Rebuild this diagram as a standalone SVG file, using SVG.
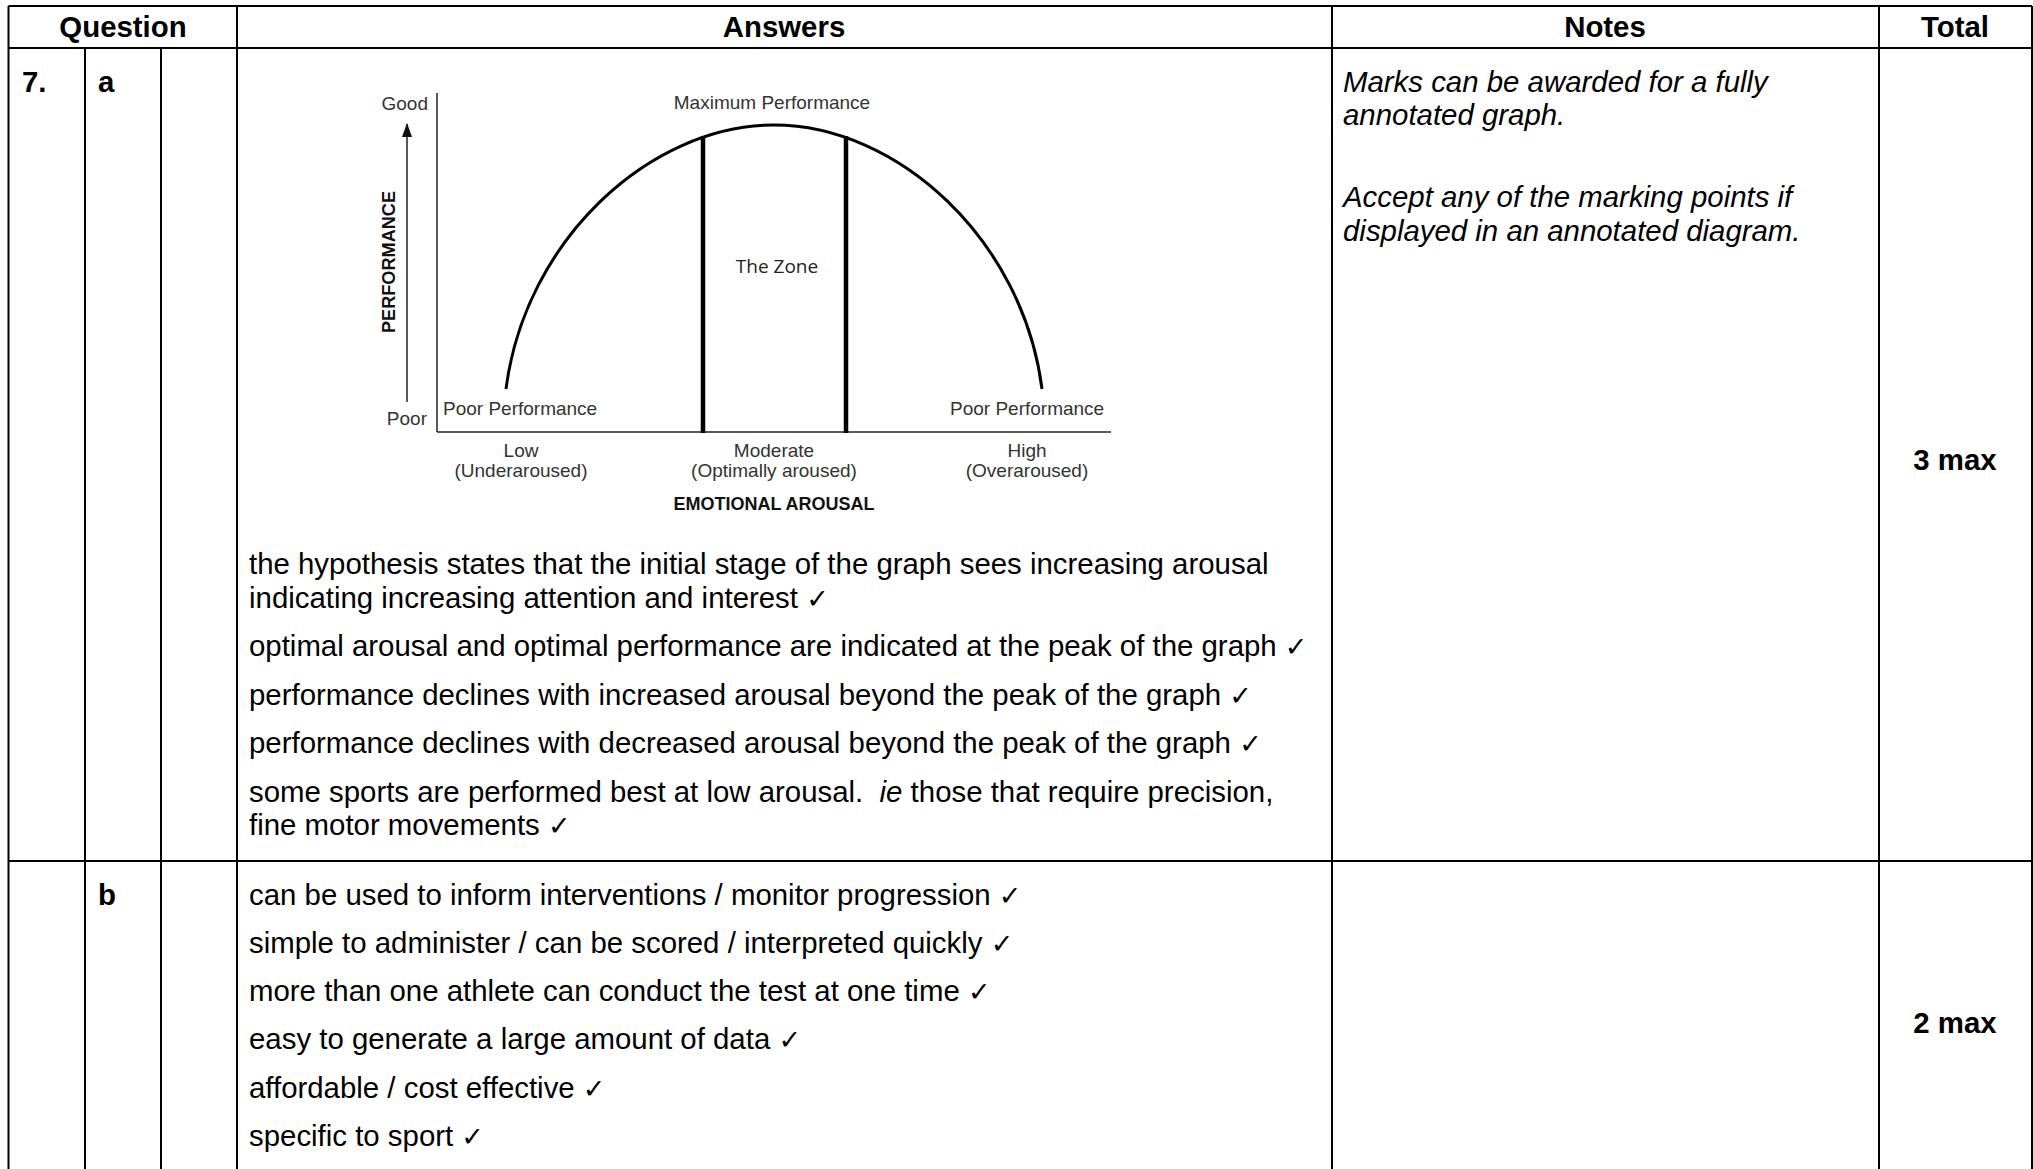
<svg xmlns="http://www.w3.org/2000/svg" width="2033" height="1169" viewBox="0 0 2033 1169">
<style>
.t{font-family:"Liberation Sans",Arial,sans-serif;font-size:29.4px;fill:#000}
.b{font-weight:bold}
.i{font-style:italic}
.ck{font-family:"DejaVu Sans",sans-serif;font-size:27px}
.g{font-family:"Liberation Sans",Arial,sans-serif;font-size:19px;fill:#333}
.gb{font-family:"Liberation Sans",Arial,sans-serif;font-size:18px;font-weight:bold;fill:#111}
.ln{stroke:#000;stroke-width:2;fill:none}
.ax{stroke:#222;stroke-width:1.5;fill:none}
.thick{stroke:#000;stroke-width:4.5}
</style>
<defs>
<marker id="ah" markerWidth="14" markerHeight="10" refX="13" refY="5" orient="auto" markerUnits="userSpaceOnUse" viewBox="0 0 14 10">
<path d="M0,0 L14,5 L0,10 Z" fill="#111"/>
</marker>
</defs>
<rect width="2033" height="1169" fill="#fff"/>
<g id="table-grid">
<line class="ln" x1="8.5" y1="6" x2="2032" y2="6"/>
<line class="ln" x1="8.5" y1="48" x2="2032" y2="48"/>
<line class="ln" x1="8.5" y1="861" x2="2032" y2="861"/>
<line class="ln" x1="8.5" y1="6" x2="8.5" y2="1169"/>
<line class="ln" x1="85" y1="48" x2="85" y2="1169"/>
<line class="ln" x1="161" y1="48" x2="161" y2="1169"/>
<line class="ln" x1="237" y1="6" x2="237" y2="1169"/>
<line class="ln" x1="1332" y1="6" x2="1332" y2="1169"/>
<line class="ln" x1="1879" y1="6" x2="1879" y2="1169"/>
<line class="ln" x1="2032" y1="6" x2="2032" y2="1169"/>
</g>
<g id="header">
<text class="t b" x="123" y="37" text-anchor="middle">Question</text>
<text class="t b" x="784" y="37" text-anchor="middle">Answers</text>
<text class="t b" x="1605" y="37" text-anchor="middle">Notes</text>
<text class="t b" x="1955" y="37" text-anchor="middle">Total</text>
</g>
<g id="row-a">
<text class="t b" x="22" y="92">7.</text>
<text class="t b" x="98" y="92">a</text>
<g id="graph">
<line class="ax" x1="437" y1="93" x2="437" y2="432"/>
<line class="ax" x1="437" y1="432" x2="1111" y2="432"/>
<line class="ax" x1="407" y1="402" x2="407" y2="124" marker-end="url(#ah)"/>
<path d="M506 389 C525 240 650 125 774 125 C898 125 1023 240 1042 389" stroke="#000" stroke-width="3" fill="none"/>
<line class="thick" x1="703" y1="136" x2="703" y2="433"/>
<line class="thick" x1="846" y1="136" x2="846" y2="433"/>
<text class="g" x="428" y="110" text-anchor="end">Good</text>
<text class="g" x="427" y="425" text-anchor="end">Poor</text>
<text class="gb" transform="translate(395 262) rotate(-90)" text-anchor="middle" font-size="17" textLength="142" lengthAdjust="spacingAndGlyphs">PERFORMANCE</text>
<text class="g" x="772" y="109" text-anchor="middle">Maximum Performance</text>
<text class="g" x="443" y="415">Poor Performance</text>
<text class="g" x="950" y="415">Poor Performance</text>
<text x="777" y="273" text-anchor="middle" font-family="'Open Sans',sans-serif" font-size="19" fill="#222">The Zone</text>
<text class="g" x="521" y="457" text-anchor="middle">Low</text>
<text class="g" x="521" y="477" text-anchor="middle">(Underaroused)</text>
<text class="g" x="774" y="457" text-anchor="middle">Moderate</text>
<text class="g" x="774" y="477" text-anchor="middle">(Optimally aroused)</text>
<text class="g" x="1027" y="457" text-anchor="middle">High</text>
<text class="g" x="1027" y="477" text-anchor="middle">(Overaroused)</text>
<text class="gb" x="774" y="510" text-anchor="middle">EMOTIONAL AROUSAL</text>
</g>
<g id="answers-a">
<text class="t" x="249" y="574">the hypothesis states that the initial stage of the graph sees increasing arousal</text>
<text class="t" x="249" y="608">indicating increasing attention and interest <tspan class="ck">✓</tspan></text>
<text class="t" x="249" y="656">optimal arousal and optimal performance are indicated at the peak of the graph <tspan class="ck">✓</tspan></text>
<text class="t" x="249" y="705">performance declines with increased arousal beyond the peak of the graph <tspan class="ck">✓</tspan></text>
<text class="t" x="249" y="753">performance declines with decreased arousal beyond the peak of the graph <tspan class="ck">✓</tspan></text>
<text class="t" x="249" y="802" xml:space="preserve">some sports are performed best at low arousal.  <tspan class="i">ie</tspan> those that require precision,</text>
<text class="t" x="249" y="835">fine motor movements <tspan class="ck">✓</tspan></text>
</g>
<g id="notes-a">
<text class="t i" x="1343" y="92">Marks can be awarded for a fully</text>
<text class="t i" x="1343" y="125">annotated graph.</text>
<text class="t i" x="1343" y="207">Accept any of the marking points if</text>
<text class="t i" x="1343" y="241">displayed in an annotated diagram.</text>
</g>
<text class="t b" x="1955" y="470" text-anchor="middle">3 max</text>
</g>
<g id="row-b">
<text class="t b" x="98" y="905">b</text>
<text class="t" x="249" y="905">can be used to inform interventions / monitor progression <tspan class="ck">✓</tspan></text>
<text class="t" x="249" y="953">simple to administer / can be scored / interpreted quickly <tspan class="ck">✓</tspan></text>
<text class="t" x="249" y="1001">more than one athlete can conduct the test at one time <tspan class="ck">✓</tspan></text>
<text class="t" x="249" y="1049">easy to generate a large amount of data <tspan class="ck">✓</tspan></text>
<text class="t" x="249" y="1098">affordable / cost effective <tspan class="ck">✓</tspan></text>
<text class="t" x="249" y="1146">specific to sport <tspan class="ck">✓</tspan></text>
<text class="t b" x="1955" y="1033" text-anchor="middle">2 max</text>
</g>
</svg>
